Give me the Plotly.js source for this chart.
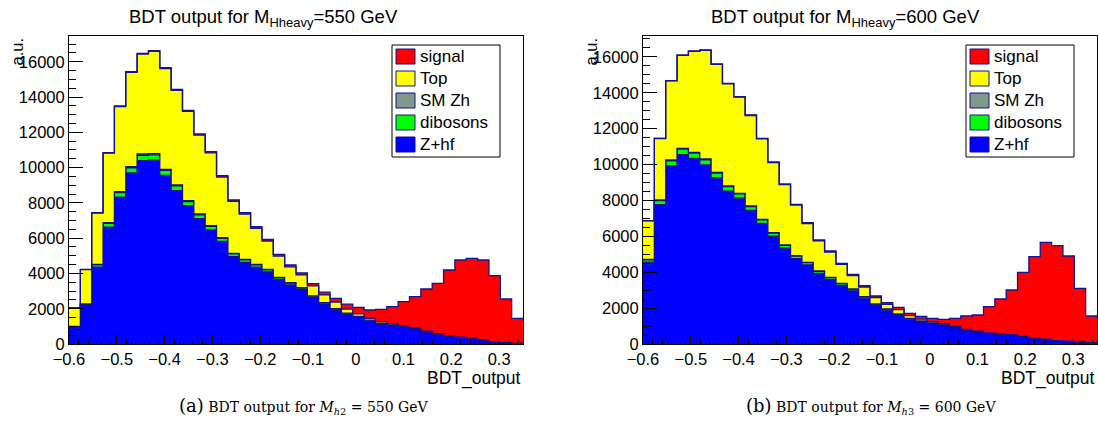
<!DOCTYPE html>
<html>
<head>
<meta charset="utf-8">
<script src="https://cdn.plot.ly/plotly-3.0.1.min.js"></script>
<style>html,body{margin:0;padding:0;background:#fff;}#chart{width:1098px;height:422px;}</style>
</head>
<body>
<div id="chart"></div>
<script>
// ---- histogram binning ----
const X_MIN = -0.6, X_MAX = 0.35, N_BINS = 40;

// ---- series names / colors ----
const seriesNames  = ["Z+hf", "dibosons", "SM Zh", "Top", "signal"];
const seriesColors = ["#0000ff", "#00ff00", "#7f998a", "#ffff00", "#ff0000"];
const legendOrder  = ["signal", "Top", "SM Zh", "dibosons", "Z+hf"];

// ---- panel (a): M = 550 GeV ----
const zhf550  = [960,2185,4350,6630,8330,9700,10400,10420,9560,8700,7840,7110,6470,5815,4955,4630,4355,4082,3645,3353,3080,2632,2265,1928,1687,1505,1303,1132,1042,952,861,678,551,442,369,314,222,129,74,37];
const dib550  = [32,68,135,205,255,290,300,300,280,260,235,215,195,175,150,140,132,124,110,102,94,80,70,60,52,45,39,33,29,26,23,18,14,10,8,6,4,2,1,1];
const smzh550 = [8,15,31,43,51,63,71,70,62,54,50,45,43,38,35,30,29,27,25,22,20,18,15,12,11,10,8,7,6,5,4,3,2,2,1,1,1,1,1,0];
const top550  = [1040,1950,2909,3944,4826,5351,5667,5794,5713,5368,5061,4470,4126,3440,2943,2560,2046,1605,1203,896,721,560,430,380,230,150,110,85,65,50,40,30,20,15,10,8,5,3,2,1];
const sig550  = [10,15,20,25,30,35,40,45,50,55,60,65,70,75,80,85,90,95,100,105,115,130,160,210,280,369,467,708,974,1367,1755,2389,2852,3726,4374,4528,4530,3739,2473,1416];

// ---- panel (b): M = 600 GeV ----
const zhf600  = [4560,7760,9920,10550,10335,9975,9255,8518,8123,7440,6720,6002,5337,4762,4403,3936,3594,3271,2965,2552,2156,1887,1617,1384,1240,1142,1024,899,755,665,575,539,485,395,306,252,180,144,107,71];
const dib600  = [135,230,290,305,300,290,270,248,237,217,197,175,156,139,129,115,105,95,87,75,63,55,47,40,36,33,30,26,22,19,17,16,14,11,9,7,5,4,3,2];
const smzh600 = [22,32,41,45,43,41,39,36,34,31,28,25,22,20,18,16,15,14,12,10,9,8,7,6,5,5,4,4,3,3,2,2,2,2,1,1,1,1,1,1];
const top600  = [2148,3427,4410,5188,5630,6055,6015,5698,5360,5042,4482,3904,3363,2820,2164,1677,1412,1054,752,538,361,260,244,148,109,70,56,45,35,28,22,17,13,10,8,6,4,3,2,1];
const sig600  = [5,8,10,12,15,18,20,22,25,28,30,33,36,40,45,50,55,60,65,75,85,100,120,130,150,180,260,456,745,901,1464,1933,2494,3574,4542,5398,5288,4751,2988,1485];

const yTickVals = [0,2000,4000,6000,8000,10000,12000,14000,16000];
const xTickVals = [-0.6,-0.5,-0.4,-0.3,-0.2,-0.1,0,0.1,0.2,0.3];

// ---- build ----
const W = 1098, H = 422;
const px = v => v / W;
const py = v => 1 - v / H;
const OUTLINE = "#12128f";

const edges = [];
for (let i = 0; i <= N_BINS; i++) edges.push(X_MIN + i * (X_MAX - X_MIN) / N_BINS);

function stackTraces(seriesList, xa, ya) {
  const traces = [];
  let cum = new Array(N_BINS).fill(0);
  seriesList.forEach((s, k) => {
    cum = cum.map((c, i) => c + s[i]);
    const y = cum.concat([cum[N_BINS - 1]]);
    traces.push({
      type: "scatter", mode: "lines", x: edges, y: y,
      xaxis: xa, yaxis: ya,
      line: {shape: "hv", color: OUTLINE, width: 1.3},
      fill: k === 0 ? "tozeroy" : "tonexty",
      fillcolor: seriesColors[k],
      name: seriesNames[k], showlegend: false, hoverinfo: "skip"
    });
  });
  return traces;
}

const data = [
  ...stackTraces([zhf550, dib550, smzh550, top550, sig550], "x", "y"),
  ...stackTraces([zhf600, dib600, smzh600, top600, sig600], "x2", "y2")
];

const tickFont = {family: "Liberation Sans, Arial, sans-serif", size: 16.5, color: "#000"};
function xAxis(domain, anchor) {
  return {
    domain: domain, anchor: anchor, range: [X_MIN, X_MAX],
    tickvals: xTickVals, ticks: "inside", ticklen: 9, tickwidth: 1, tickcolor: "#000",
    showline: true, mirror: true, linecolor: "#000", linewidth: 1,
    showgrid: false, zeroline: false, tickfont: tickFont,
    minor: {dtick: 0.02, tick0: 0, ticks: "inside", ticklen: 4.5, tickcolor: "#000", showgrid: false}
  };
}
function yAxis(domain, anchor, ymax) {
  return {
    domain: domain, anchor: anchor, range: [0, ymax],
    tickvals: yTickVals, tickformat: "d", ticks: "inside", ticklen: 13.5, tickwidth: 1, tickcolor: "#000",
    showline: true, mirror: true, linecolor: "#000", linewidth: 1,
    showgrid: false, zeroline: false, tickfont: tickFont,
    minor: {dtick: 500, tick0: 0, ticks: "inside", ticklen: 7, tickcolor: "#000", showgrid: false}
  };
}

const shapes = [];
const annotations = [];
function addLegend(x0) {
  shapes.push({type: "rect", xref: "paper", yref: "paper", x0: px(x0), x1: px(x0 + 108), y0: py(157), y1: py(45),
               line: {color: "#000", width: 1}, fillcolor: "#fff", layer: "above"});
  legendOrder.forEach((nm, k) => {
    const idx = seriesNames.indexOf(nm);
    const yc = 56.5 + 22 * k;
    shapes.push({type: "rect", xref: "paper", yref: "paper", x0: px(x0 + 4), x1: px(x0 + 23), y0: py(yc + 7.5), y1: py(yc - 7.5),
                 line: {color: OUTLINE, width: 1}, fillcolor: seriesColors[idx], layer: "above"});
    annotations.push({xref: "paper", yref: "paper", x: px(x0 + 26), y: py(yc), xanchor: "left", yanchor: "middle",
                      text: nm, showarrow: false, font: {family: "Liberation Sans, Arial, sans-serif", size: 17, color: "#000"}});
  });
}
addLegend(392);
addLegend(966);

function addTexts(frameLeft, frameRight, titleText, titleCx, captionText, captionCx) {
  annotations.push({xref: "paper", yref: "paper", x: px(titleCx), y: py(18), xanchor: "center", yanchor: "middle",
                    text: titleText, showarrow: false, font: {family: "Liberation Sans, Arial, sans-serif", size: 18.5, color: "#000"}});
  annotations.push({xref: "paper", yref: "paper", x: px(frameRight), y: py(366), xanchor: "right", yanchor: "top",
                    text: "BDT_output", showarrow: false, font: {family: "Liberation Sans, Arial, sans-serif", size: 17.5, color: "#000"}});
  annotations.push({xref: "paper", yref: "paper", x: px(frameLeft - 52.5), y: py(36), xanchor: "center", yanchor: "top",
                    textangle: -90, text: "a.u.", showarrow: false, font: {family: "Liberation Sans, Arial, sans-serif", size: 16.5, color: "#000"}});
  annotations.push({xref: "paper", yref: "paper", x: px(captionCx), y: py(406), xanchor: "center", yanchor: "middle",
                    text: captionText, showarrow: false, font: {family: "DejaVu Serif, serif", size: 14, color: "#000"}});
}
addTexts(69, 523, "BDT output for M<sub>Hheavy</sub>=550 GeV", 263,
         "<span style='font-size:18px'>(a)</span> BDT output for <i>M</i><sub><i>h</i>2</sub> = 550 GeV", 303.5);
addTexts(643, 1097, "BDT output for M<sub>Hheavy</sub>=600 GeV", 845,
         "<span style='font-size:18px'>(b)</span> BDT output for <i>M</i><sub><i>h</i>3</sub> = 600 GeV", 870.5);

const layout = {
  width: W, height: H, margin: {l: 0, r: 0, t: 0, b: 0},
  paper_bgcolor: "#fff", plot_bgcolor: "#fff", showlegend: false,
  xaxis: xAxis([px(69), px(523)], "y"),
  yaxis: yAxis([1 - 344 / H, 1 - 36 / H], "x", 17460),
  xaxis2: xAxis([px(643), px(1097)], "y2"),
  yaxis2: yAxis([1 - 344 / H, 1 - 36 / H], "x2", 17160),
  shapes: shapes, annotations: annotations
};

Plotly.newPlot("chart", data, layout, {staticPlot: true, displayModeBar: false});
</script>
</body>
</html>
